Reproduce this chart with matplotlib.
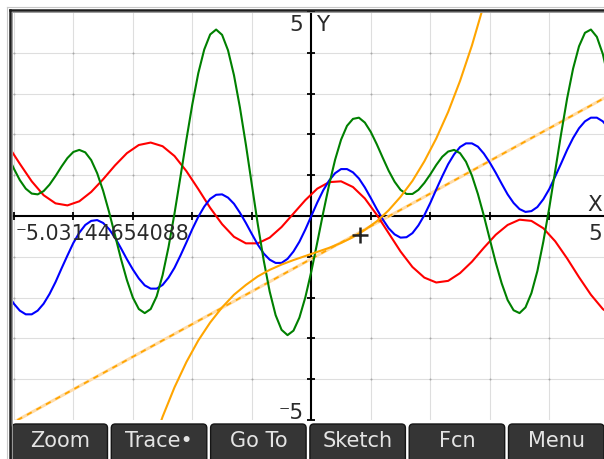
import matplotlib.pyplot as plt
from matplotlib.patches import FancyBboxPatch
from matplotlib.lines import Line2D

# ---------------------------------------------------------------
# Function plot screen
x_min, x_max = -5.03144654088, 4.92
y_min, y_max = -5, 5

# coarse sampling (every 0.2) for the slow red curve
xs = [-5.1, -4.9, -4.7, -4.5, -4.3, -4.1, -3.9, -3.7, -3.5, -3.3,
      -3.1, -2.9, -2.7, -2.5, -2.3, -2.1, -1.9, -1.7, -1.5, -1.3,
      -1.1, -0.9, -0.7, -0.5, -0.3, -0.1, 0.1, 0.3, 0.5, 0.7,
      0.9, 1.1, 1.3, 1.5, 1.7, 1.9, 2.1, 2.3, 2.5, 2.7,
      2.9, 3.1, 3.3, 3.5, 3.7, 3.9, 4.1, 4.3, 4.5, 4.7,
      4.9, 5.1]

red_y = [1.73, 1.28, 0.85, 0.51, 0.31, 0.26, 0.36, 0.59, 0.90, 1.24,
         1.54, 1.74, 1.80, 1.71, 1.47, 1.10, 0.66, 0.20, -0.20, -0.51,
         -0.67, -0.67, -0.53, -0.27, 0.06, 0.39, 0.67, 0.83, 0.85, 0.71,
         0.43, 0.03, -0.42, -0.87, -1.25, -1.51, -1.63, -1.59, -1.40, -1.12,
         -0.78, -0.46, -0.22, -0.09, -0.12, -0.30, -0.62, -1.04, -1.50, -1.93,
         -2.28, -2.50]

# fine sampling (every 0.1) for the faster blue / green curves
xs_fine = [-5.1, -5.0, -4.9, -4.8, -4.7, -4.6, -4.5, -4.4, -4.3, -4.2,
           -4.1, -4.0, -3.9, -3.8, -3.7, -3.6, -3.5, -3.4, -3.3, -3.2,
           -3.1, -3.0, -2.9, -2.8, -2.7, -2.6, -2.5, -2.4, -2.3, -2.2,
           -2.1, -2.0, -1.9, -1.8, -1.7, -1.6, -1.5, -1.4, -1.3, -1.2,
           -1.1, -1.0, -0.9, -0.8, -0.7, -0.6, -0.5, -0.4, -0.3, -0.2,
           -0.1, 0.0, 0.1, 0.2, 0.3, 0.4, 0.5, 0.6, 0.7, 0.8,
           0.9, 1.0, 1.1, 1.2, 1.3, 1.4, 1.5, 1.6, 1.7, 1.8,
           1.9, 2.0, 2.1, 2.2, 2.3, 2.4, 2.5, 2.6, 2.7, 2.8,
           2.9, 3.0, 3.1, 3.2, 3.3, 3.4, 3.5, 3.6, 3.7, 3.8,
           3.9, 4.0, 4.1, 4.2, 4.3, 4.4, 4.5, 4.6, 4.7, 4.8,
           4.9, 5.0, 5.1]

blue_y = [-1.93, -2.15, -2.32, -2.41, -2.41, -2.32, -2.15, -1.91, -1.62, -1.29,
          -0.97, -0.66, -0.41, -0.22, -0.12, -0.10, -0.17, -0.32, -0.53, -0.79,
          -1.06, -1.31, -1.53, -1.70, -1.78, -1.78, -1.69, -1.51, -1.27, -0.97,
          -0.65, -0.32, -0.02, 0.23, 0.42, 0.52, 0.53, 0.45, 0.30, 0.08,
          -0.17, -0.44, -0.70, -0.92, -1.07, -1.15, -1.15, -1.05, -0.87, -0.63,
          -0.33, 0.00, 0.33, 0.63, 0.87, 1.05, 1.15, 1.15, 1.07, 0.92,
          0.70, 0.44, 0.17, -0.08, -0.30, -0.45, -0.53, -0.52, -0.42, -0.23,
          0.02, 0.32, 0.65, 0.97, 1.27, 1.51, 1.69, 1.78, 1.78, 1.70,
          1.53, 1.31, 1.06, 0.79, 0.53, 0.32, 0.17, 0.10, 0.12, 0.22,
          0.41, 0.66, 0.97, 1.29, 1.62, 1.91, 2.15, 2.32, 2.41, 2.41,
          2.32, 2.15, 1.93]

green_y = [1.48, 1.16, 0.88, 0.67, 0.55, 0.53, 0.61, 0.77, 0.98, 1.21,
           1.42, 1.57, 1.62, 1.56, 1.37, 1.05, 0.62, 0.10, -0.47, -1.05,
           -1.57, -2.00, -2.28, -2.38, -2.28, -1.97, -1.45, -0.76, 0.06, 0.96,
           1.87, 2.74, 3.50, 4.08, 4.45, 4.57, 4.44, 4.06, 3.45, 2.66,
           1.75, 0.77, -0.20, -1.09, -1.85, -2.43, -2.79, -2.92, -2.81, -2.49,
           -1.99, -1.36, -0.65, 0.08, 0.77, 1.38, 1.87, 2.21, 2.38, 2.41,
           2.29, 2.06, 1.76, 1.43, 1.11, 0.84, 0.64, 0.54, 0.54, 0.64,
           0.81, 1.02, 1.25, 1.45, 1.58, 1.62, 1.54, 1.33, 0.99, 0.54,
           0.01, -0.57, -1.14, -1.65, -2.06, -2.31, -2.38, -2.24, -1.89, -1.35,
           -0.63, 0.20, 1.11, 2.02, 2.88, 3.61, 4.16, 4.49, 4.57, 4.39,
           3.97, 3.33, 2.52]

orange_x = [-2.7, -2.5, -2.3, -2.1, -1.9, -1.7, -1.5, -1.3, -1.1, -0.9,
            -0.7, -0.5, -0.3, -0.1, 0.1, 0.3, 0.5, 0.7, 0.9, 1.1,
            1.3, 1.5, 1.7, 1.9, 2.1, 2.3, 2.5, 2.7, 2.9, 3.1]
orange_y = [-5.75, -4.92, -4.20, -3.58, -3.05, -2.61, -2.24, -1.93, -1.69, -1.48,
            -1.32, -1.19, -1.08, -0.98, -0.88, -0.78, -0.66, -0.52, -0.34, -0.13,
            0.14, 0.47, 0.86, 1.34, 1.90, 2.55, 3.31, 4.18, 5.18, 6.32]

dashed_x = [-5.1, 5.1]
dashed_y = [-5.13, 3.03]

cursor_x, cursor_y = 0.82, -0.47

menu_labels = ["Zoom", "Trace\u2022", "Go To", "Sketch", "Fcn", "Menu"]

# ---------------------------------------------------------------
W, H = 604, 459
fig = plt.figure(figsize=(W / 100, H / 100), dpi=100)
fig.patch.set_facecolor("white")
ax = fig.add_axes([12 / W, 39 / H, 592 / W, 408 / H])
ax.set_xlim(x_min, x_max)
ax.set_ylim(y_min, y_max)
ax.set_axis_off()

grid_c = "#dedede"
for gx in range(-5, 5):
    if gx != 0:
        ax.axvline(gx, color=grid_c, lw=0.8, zorder=0)
for gy in range(-4, 5):
    if gy != 0:
        ax.axhline(gy, color=grid_c, lw=0.8, zorder=0)
gxx = [gx for gx in range(-5, 5) for gy in range(-4, 5)]
gyy = [gy for gx in range(-5, 5) for gy in range(-4, 5)]
ax.scatter(gxx, gyy, s=2, color="#a8a8a8", zorder=0.5, lw=0)

# axes + ticks
ax.axhline(0, color="black", lw=1.5, zorder=1)
ax.axvline(0, color="black", lw=1.5, zorder=1)
tx = [k for k in range(-5, 5) if k != 0]
ax.plot(tx, [0] * len(tx), ls="none", marker="|", ms=6, mew=1.3,
        color="black", clip_on=False, zorder=1)
ty = [k for k in range(-5, 6) if k != 0]
ax.plot([0] * len(ty), ty, ls="none", marker="_", ms=6, mew=1.3,
        color="black", clip_on=False, zorder=1)

# curves
ax.plot(xs, red_y, color="#ff0000", lw=1.5, zorder=3)
ax.plot(xs_fine, blue_y, color="#0000ff", lw=1.5, zorder=3)
ax.plot(xs_fine, green_y, color="#008000", lw=1.5, zorder=3)
ax.plot(orange_x, orange_y, color="#ffa500", lw=1.5, zorder=3)
ax.plot(dashed_x, dashed_y, color="#ffdca8", lw=2.2, zorder=2.5)
ax.plot(dashed_x, dashed_y, color="#ffa500", lw=1.3, dashes=(3, 3), zorder=2.6)

ax.plot([cursor_x], [cursor_y], marker="+", ms=11, mew=1.8, color="#222222",
        zorder=4)

# axis labels
tc = "#2a2a2a"
fs = 15.5
def label(s, xy, dx, dy, ha, size=fs):
    ax.annotate(s, xy=xy, xytext=(dx, dy), textcoords="offset pixels",
                ha=ha, va="baseline", fontsize=size, color=tc,
                annotation_clip=False, zorder=5)

label("5", (0, y_max), -8, -19, "right")
label("Y", (0, y_max), 5, -19, "left")
label("\u207b5", (0, y_min), -8, 1, "right")
label("\u207b5.03144654088", (x_min, 0), 4, -24, "left", 14.8)
label("X", (x_max, 0), -2, 5, "right")
label("5", (x_max, 0), -2, -24, "right")

# screen frame (top / left double border)
def fx(px):
    return px / W

def fy(py):
    return 1 - py / H

for pos, col, lw in [(6.5, "#c8c8c8", 0.8), (9.5, "#1e1e1e", 1.8), (12, "#9a9a9a", 0.7)]:
    fig.add_artist(Line2D([fx(pos), fx(pos)], [fy(pos), 0], color=col, lw=lw))
    fig.add_artist(Line2D([fx(pos), 1], [fy(pos), fy(pos)], color=col, lw=lw))

# soft-key menu bar
pitch = 99.3
for i, name in enumerate(menu_labels):
    x0 = 12 + i * pitch
    box = FancyBboxPatch((x0 / 100, -0.05), 95.5 / 100, (459 - 424) / 100 + 0.05,
                         boxstyle="round,pad=0,rounding_size=0.04",
                         transform=fig.dpi_scale_trans, facecolor="#353535",
                         edgecolor="#151515", lw=1.0)
    fig.add_artist(box)
    fig.text((x0 + 47.75) / W, fy(441), name, ha="center", va="center",
             fontsize=15, color="#e4e4e4")

plt.savefig("out.png", dpi=100)
